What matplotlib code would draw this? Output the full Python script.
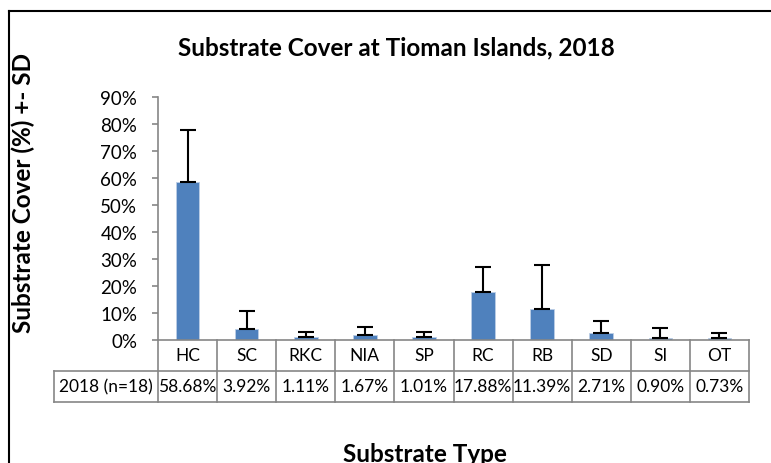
import matplotlib.pyplot as plt
import matplotlib.transforms as mtransforms

plt.rcParams['font.family'] = ['Lato', 'DejaVu Sans']

# data
categories = ['HC', 'SC', 'RKC', 'NIA', 'SP', 'RC', 'RB', 'SD', 'SI', 'OT']
cover = [58.68, 3.92, 1.11, 1.67, 1.01, 17.88, 11.39, 2.71, 0.90, 0.73]
sd = [19.2, 7.0, 2.0, 3.3, 2.1, 9.1, 16.4, 4.2, 3.4, 1.8]
row_label = '2018 (n=18)'
yticks = [0, 10, 20, 30, 40, 50, 60, 70, 80, 90]

W, H = 771, 464
fig = plt.figure(figsize=(W / 100, H / 100), dpi=100)

# outer chart frame (cropped on right/bottom)
fig.add_artist(plt.Line2D([9 / W, 9 / W], [0, 1 - 12 / H], color='black', lw=1.5))
fig.add_artist(plt.Line2D([9 / W, 1], [1 - 12 / H, 1 - 12 / H], color='black', lw=1.5))

x0, x1 = 158, 749
ybot, ytop = 341, 98
ax = fig.add_axes([x0 / W, 1 - ybot / H, (x1 - x0) / W, (ybot - ytop) / H])

grey = '#868686'
x = range(len(categories))
ax.bar(x, cover, width=0.4, color='#4F81BD', edgecolor='#BCCEE6', linewidth=0.6, zorder=2)
ax.errorbar(x, cover, yerr=[[0] * len(sd), sd], fmt='none', ecolor='black',
            elinewidth=1.5, capsize=6, capthick=1.5, zorder=3)

ax.set_xlim(-0.5, len(categories) - 0.5)
ax.set_ylim(0, 90)
ax.set_yticks(yticks)
ax.set_yticklabels([f'{v}%' for v in yticks], fontsize=13.5)
ax.set_xticks([])
for s in ['top', 'right']:
    ax.spines[s].set_visible(False)
for s in ['left', 'bottom']:
    ax.spines[s].set_color(grey)
    ax.spines[s].set_linewidth(1.2)
ax.tick_params(axis='y', length=4, color=grey, width=1.2, pad=11)

# data table below the axis
trans = mtransforms.blended_transform_factory(ax.transData, ax.transAxes)
ah = ybot - ytop
r1 = -31 / ah
r2 = -62 / ah
lab_left = -0.5 - (x0 - 54) / ((x1 - x0) / len(categories))
lk = dict(color=grey, lw=1.2, transform=trans, clip_on=False)
n = len(categories)
for i in range(n + 1):
    ax.plot([i - 0.5, i - 0.5], [0, r2], **lk)
ax.plot([lab_left, n - 0.5], [r1, r1], **lk)
ax.plot([lab_left, n - 0.5], [r2, r2], **lk)
ax.plot([lab_left, lab_left], [r1, r2], **lk)
for i, (c, v) in enumerate(zip(categories, cover)):
    ax.text(i, r1 / 2, c, ha='center', va='center', fontsize=12.5, transform=trans)
    ax.text(i, (r1 + r2) / 2, f'{v:.2f}%', ha='center', va='center', fontsize=12.5,
            transform=trans)
ax.text((lab_left - 0.5) / 2, (r1 + r2) / 2, row_label, ha='center', va='center',
        fontsize=12.5, transform=trans)

fig.text(396 / W, 1 - 48 / H, 'Substrate Cover at Tioman Islands, 2018', ha='center',
         va='center', fontsize=17.5, fontweight='bold')
fig.text(23 / W, 1 - 193 / H, 'Substrate Cover (%) +- SD', ha='center', va='center',
         rotation=90, fontsize=17.5, fontweight='bold')
fig.text(425 / W, 1 - 455 / H, 'Substrate Type', ha='center', va='center',
         fontsize=17.5, fontweight='bold')

fig.savefig('out.png', dpi=100)
